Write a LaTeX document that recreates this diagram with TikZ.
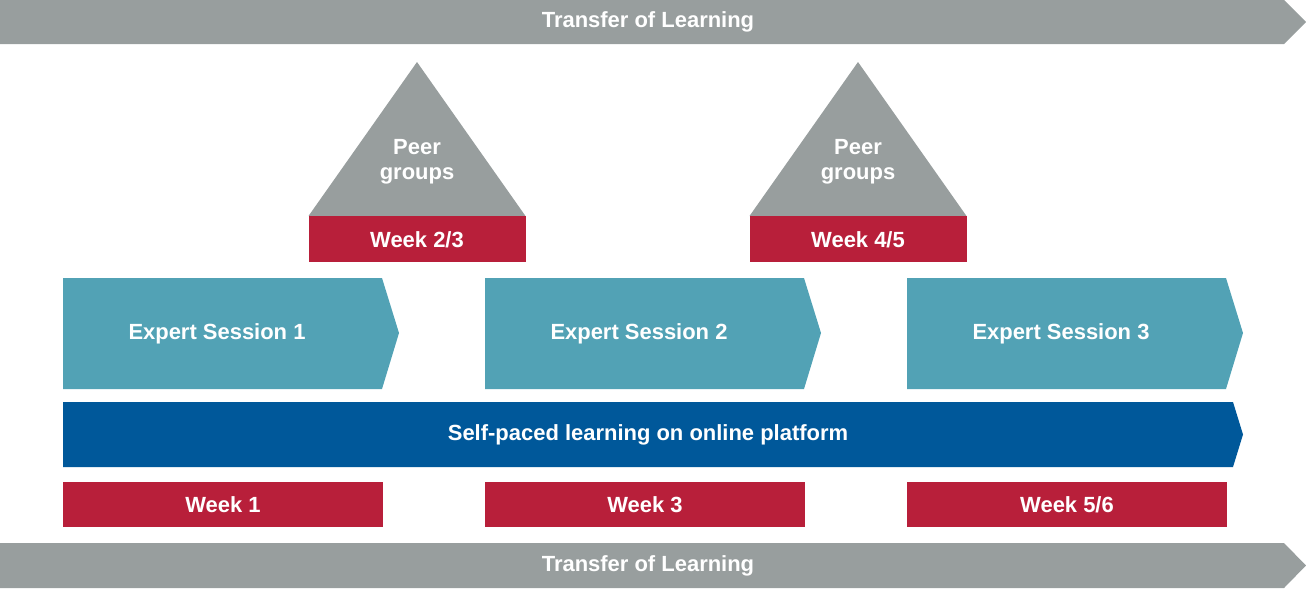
\documentclass[tikz,border=0pt]{standalone}
\usepackage{fontspec}
\setmainfont{Liberation Sans}
\usepackage{tikz}
\usetikzlibrary{positioning}
\definecolor{bannergray}{RGB}{152,158,158}
\definecolor{sessionteal}{RGB}{82,162,181}
\definecolor{platformblue}{RGB}{0,88,154}
\definecolor{weekred}{RGB}{184,31,58}
\tikzset{
  lbl/.style={text=white, font=\bfseries\fontsize{12.5}{14}\selectfont, align=center},
}
\begin{document}
\begin{tikzpicture}[x=0.02cm, y=-0.02cm]
  \useasboundingbox (0,0) rectangle (1306,596);

  % Banners
  \fill[bannergray] (0,0) -- (1284,0) -- (1306,22) -- (1284,44) -- (0,44) -- cycle;
  \node[lbl] (toptransfer) at (648,22) {Transfer of Learning};
  \fill[bannergray] (0,543) -- (1284,543) -- (1306,565.5) -- (1284,588) -- (0,588) -- cycle;
  \node[lbl] (bottomtransfer) at (648,565.5) {Transfer of Learning};

  % Peer groups
  \foreach \cx/\wk/\n in {417/2\slash3/a, 858/4\slash5/b} {
    \fill[bannergray] (\cx-108.5,216) -- (\cx,62) -- (\cx+108.5,216) -- cycle;
    \node[lbl] (peer\n) at (\cx,162) {Peer\\groups};
    \fill[weekred] (\cx-108.5,216) rectangle (\cx+108.5,262);
    \node[lbl] (peerweek\n) at (\cx,240) {Week \wk};
  }

  % Expert sessions
  \foreach \x/\k in {63/1, 485/2, 907/3} {
    \fill[sessionteal] (\x,278) -- (\x+319,278) -- (\x+336,333) -- (\x+319,389) -- (\x,389) -- cycle;
    \node[lbl] (session\k) at (\x+154,334) {Expert Session \k};
  }

  % Platform
  \fill[platformblue] (63,402) -- (1233,402) -- (1243,434.5) -- (1233,467) -- (63,467) -- cycle;
  \node[lbl] (platform) at (648,435) {Self-paced learning on online platform};

  % Weeks
  \foreach \x/\wk/\n in {63/1/a, 485/3/b, 907/5\slash6/c} {
    \fill[weekred] (\x,482) rectangle (\x+320,527);
    \node[lbl] (week\n) at (\x+160,505) {Week \wk};
  }
\end{tikzpicture}
\end{document}
